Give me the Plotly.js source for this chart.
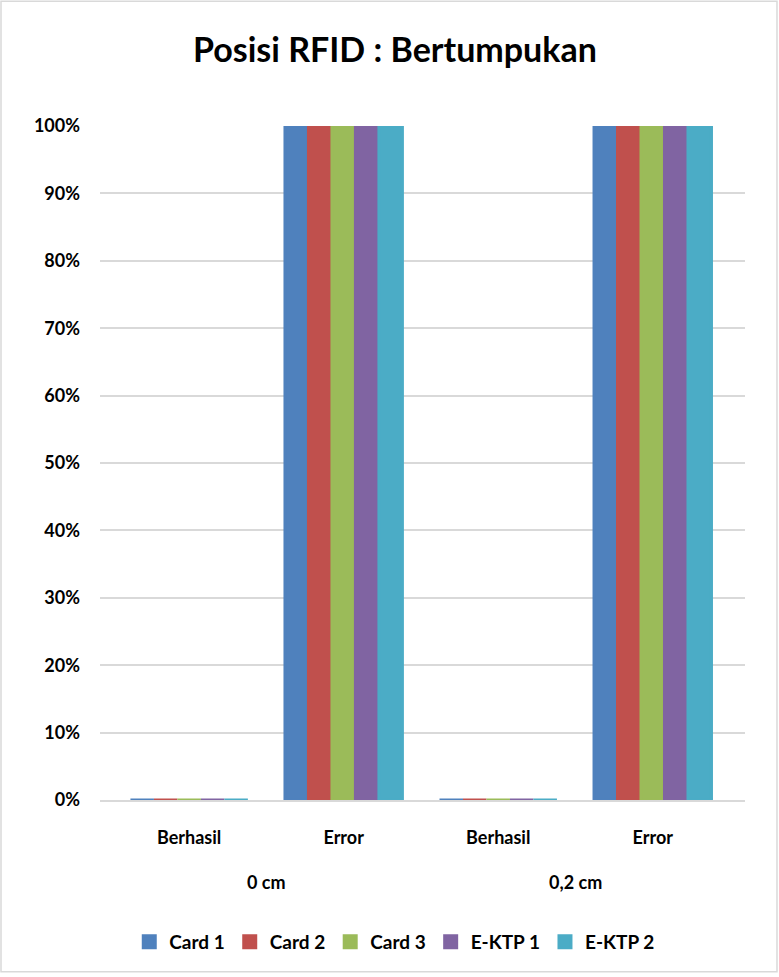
<!DOCTYPE html>
<html><head><meta charset="utf-8">
<script src="https://cdn.plot.ly/plotly-3.0.1.min.js"></script>
<style>html,body{margin:0;padding:0;background:#fff}#c{width:779px;height:977px}</style>
</head><body><div id="c"></div>
<script>
const groups = ["0 cm","0,2 cm"];
const outcomes = ["Berhasil","Error"];
const categoryKeys = ["0 cm|Berhasil","0 cm|Error","0,2 cm|Berhasil","0,2 cm|Error"];
const categoryLabels = ["Berhasil","Error","Berhasil","Error"];
const seriesNames = ["Card 1","Card 2","Card 3","E-KTP 1","E-KTP 2"];
const seriesColors = ["#4F81BD","#C0504D","#9BBB59","#8064A2","#4BACC6"];
const card1 = [0,1,0,1];
const card2 = [0,1,0,1];
const card3 = [0,1,0,1];
const ektp1 = [0,1,0,1];
const ektp2 = [0,1,0,1];
const values = [card1,card2,card3,ektp1,ektp2];
const yTicks = [0,0.1,0.2,0.3,0.4,0.5,0.6,0.7,0.8,0.9,1];
const yTickText = ["0%","10%","20%","30%","40%","50%","60%","70%","80%","90%","100%"];

const font = "Lato, 'Open Sans', sans-serif";
const bold = {family:font, size:18, color:"#000", weight:700};
const traces = seriesNames.map((n,i)=>({
  type:"bar", name:n, x:categoryKeys, y:values[i],
  marker:{color:seriesColors[i], line:{color:seriesColors[i], width:3}}
}));
const annotations = groups.map((g,i)=>({
  text:g, xref:"x domain", yref:"paper", x:(0.577+0.5+2*i)/4.174, y:-0.1217,
  xanchor:"center", yanchor:"middle", showarrow:false, font:bold
}));
Plotly.newPlot("c", traces, {
  width:779, height:977,
  margin:{l:100,r:34,t:126,b:177},
  paper_bgcolor:"#fff", plot_bgcolor:"#fff",
  title:{text:"<b>Posisi RFID : Bertumpukan</b>", font:{family:font,size:34,color:"#000"}, x:0.507, xanchor:"center", y:0.949, yanchor:"middle"},
  bargap:0.24, bargroupgap:0,
  showlegend:true,
  legend:{orientation:"h", x:0.457, xanchor:"center", y:-0.2107, yanchor:"middle", font:{family:font,size:19,color:"#000",weight:700}, traceorder:"normal"},
  xaxis:{type:"category", categoryorder:"array", categoryarray:categoryKeys, tickvals:categoryKeys, ticktext:categoryLabels, range:[-0.577,3.597], tickfont:bold, showline:true, linecolor:"#d9d9d9", linewidth:2, ticks:"", showgrid:false, ticklabelstandoff:20},
  yaxis:{range:[0,1], tickvals:yTicks, ticktext:yTickText, tickfont:bold, gridcolor:"#d9d9d9", gridwidth:2, zeroline:false, ticklabelstandoff:19, showline:false},
  annotations:annotations,
  shapes:[{type:"rect", xref:"paper", yref:"paper", x0:-0.1535, x1:1.0496, y0:-0.255, y1:1.185, line:{color:"#d9d9d9", width:1.5}, layer:"below"}]
}, {displayModeBar:false});
</script></body></html>
